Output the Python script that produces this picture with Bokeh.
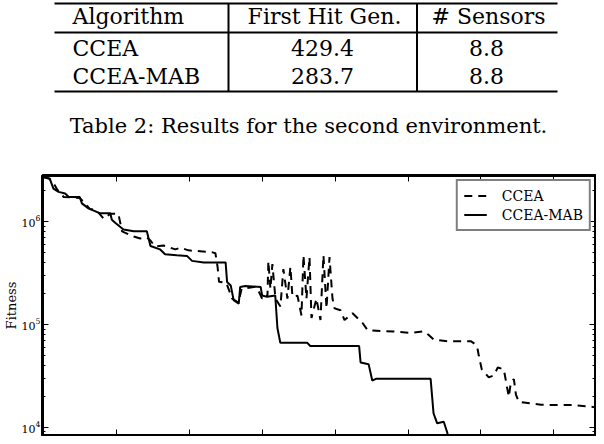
from bokeh.plotting import figure
from bokeh.models import Range1d, FixedTicker, LinearAxis, LogAxis
from bokeh.layouts import column
from bokeh.embed import file_html
from bokeh.resources import INLINE
from bokeh.core.properties import value

# ---------------- table data ----------------
table_headers = ["Algorithm", "First Hit Gen.", "# Sensors"]
algorithms = ["CCEA", "CCEA-MAB"]
first_hit_gen = [429.4, 283.7]
num_sensors = [8.8, 8.8]
caption = "Table 2: Results for the second environment."

# ---------------- chart data ----------------
ccea_gen = [0, 9, 16, 19, 28, 37, 50, 57, 64, 73, 83, 92, 103, 108, 124, 133, 142, 147,
            153, 165, 181, 188, 199, 215, 232, 236, 239, 241, 251, 259, 267.5, 272, 291,
            295, 300, 306, 307.3, 308.6, 311.4, 314.1, 318.3, 325.1, 329.2, 334.7, 338.8,
            341.6, 348.5, 354, 356.7, 360.8, 365, 367.7, 374.5, 380, 384.1, 388.3, 392.4,
            396.5, 399.3, 407.5, 413, 424, 437.7, 444.5, 462.4, 480.3, 503.6, 521.4, 528.4,
            535.3, 554, 586, 592.9, 595.6, 597, 601.1, 610.7, 617.6, 623.1, 631.3, 638.2,
            641, 645.1, 648, 652.1, 682.3, 727.6, 751, 769]
ccea_fitness = [2.70e6, 2.60e6, 2.24e6, 2.05e6, 1.73e6, 1.72e6, 1.69e6, 1.51e6, 1.32e6,
                1.29e6, 1.06e6, 1.19e6, 1.19e6, 8.02e5, 7.15e5, 6.83e5, 6.98e5, 6.53e5,
                5.72e5, 5.85e5, 5.36e5, 5.56e5, 5.24e5, 5.13e5, 5.01e5, 4.91e5, 3.61e5,
                2.59e5, 2.53e5, 1.78e5, 1.63e5, 2.22e5, 2.32e5, 2.12e5, 1.78e5, 1.95e5,
                1.86e5, 4.11e5, 2.22e5, 3.85e5, 1.78e5, 1.49e5, 3.45e5, 1.78e5, 3.61e5,
                1.86e5, 1.90e5, 1.22e5, 4.70e5, 1.78e5, 4.50e5, 1.15e5, 1.78e5, 1.10e5,
                4.70e5, 1.43e5, 4.50e5, 1.78e5, 1.43e5, 1.37e5, 1.10e5, 1.28e5, 1.03e5,
                8.79e4, 8.61e4, 8.51e4, 8.24e4, 8.55e4, 7.89e4, 7.11e4, 6.86e4, 6.86e4,
                6.37e4, 5.66e4, 4.97e4, 3.65e4, 3.05e4, 3.19e4, 3.81e4, 3.65e4, 1.97e4,
                2.74e4, 2.93e4, 2.06e4, 1.76e4, 1.65e4, 1.64e4, 1.58e4, 1.52e4]

mab_gen = [0, 9, 14, 21, 30, 35, 50, 53, 62, 78, 92, 94, 99, 110, 124, 142, 147, 160,
           167, 183, 197, 204, 220, 250, 252, 257, 261, 268, 270, 277, 298, 300, 307,
           318, 321, 325, 362, 366, 433, 435, 446, 451, 456, 531, 535, 540, 549, 554,
           556, 769]
mab_fitness = [2.70e6, 2.60e6, 2.09e6, 1.94e6, 1.87e6, 1.73e6, 1.73e6, 1.50e6, 1.34e6,
               1.20e6, 1.20e6, 1.04e6, 9.66e5, 8.34e5, 8.02e5, 8.02e5, 5.77e5, 5.36e5,
               4.80e5, 4.70e5, 4.63e5, 4.14e5, 4.00e5, 4.00e5, 2.58e5, 2.39e5, 1.72e5,
               1.59e5, 2.31e5, 2.36e5, 2.31e5, 1.91e5, 1.85e5, 1.91e5, 9.2e4, 6.61e4,
               6.61e4, 6.15e4, 6.15e4, 4.26e4, 4.10e4, 2.84e4, 2.95e4, 2.95e4, 1.36e4,
               1.09e4, 1.13e4, 8.77e3, 6.0e3, 6.0e3]

x_ticks = [0, 100, 200, 300, 400, 500, 600, 700]
y_ticks = [1e4, 1e5, 1e6]
y_minor_ticks = [k * 10 ** e for e in (3, 4, 5, 6) for k in range(2, 10)]

SERIF = "DejaVu Serif"
BORDER_L, BORDER_R = 42, 1

# ---------------- table + caption figure ----------------
t = figure(width=596, height=165, x_range=Range1d(BORDER_L, 596 - BORDER_R),
           y_range=Range1d(165, 0),
           output_backend="svg", toolbar_location=None,
           min_border_left=BORDER_L, min_border_right=BORDER_R,
           min_border_top=0, min_border_bottom=0,
           x_axis_location=None, y_axis_location=None)
t.grid.visible = False
t.outline_line_color = None

rule_y = [3, 32, 91]
t.segment(x0=54, x1=557, y0=rule_y, y1=rule_y, line_width=2, line_color="black")
sep_x = [228, 416.5]
t.segment(x0=sep_x, x1=sep_x, y0=3, y1=91, line_width=2, line_color="black")

header_base, row_base = 15.5, [47.5, 75.5]
tfont = dict(text_font=value(SERIF), text_font_size="22px", text_color="black",
             text_baseline="alphabetic")
t.text(x=[72], y=[header_base], text=[table_headers[0]], text_align="left", **tfont)
t.text(x=[324, 488], y=[header_base] * 2, text=table_headers[1:], text_align="center", **tfont)
t.text(x=[72] * 2, y=row_base, text=algorithms, text_align="left", **tfont)
t.text(x=[322] * 2, y=row_base, text=[f"{v:.1f}" for v in first_hit_gen],
       text_align="center", **tfont)
t.text(x=[486] * 2, y=row_base, text=[f"{v:.1f}" for v in num_sensors],
       text_align="center", **tfont)
t.text(x=[308], y=[125], text=[caption], text_align="center",
       text_font=value(SERIF), text_font_size="21px", text_color="black",
       text_baseline="alphabetic")

# ---------------- chart figure ----------------
p = figure(width=596, height=271, x_range=Range1d(-1, 757), y_range=Range1d(8.3e3, 2.8e6),
           y_axis_type="log", output_backend="svg", toolbar_location=None,
           x_axis_location=None, y_axis_location=None,
           min_border_left=BORDER_L, min_border_right=BORDER_R,
           min_border_top=10, min_border_bottom=1)
p.xgrid.grid_line_color = None
p.ygrid.grid_line_color = None
p.outline_line_color = "black"
p.outline_line_width = 3
p.background_fill_color = "white"

bottom_ax, top_ax = LinearAxis(), LinearAxis()
left_ax, right_ax = LogAxis(axis_label="Fitness"), LogAxis()
p.add_layout(bottom_ax, "below")
p.add_layout(top_ax, "above")
p.add_layout(left_ax, "left")
p.add_layout(right_ax, "right")

for ax in [bottom_ax, top_ax]:
    ax.ticker = FixedTicker(ticks=x_ticks)
    ax.major_tick_in = 6
    ax.major_tick_out = 0
    ax.minor_tick_in = 0
    ax.minor_tick_out = 0

for ax in [left_ax, right_ax]:
    ax.ticker = FixedTicker(ticks=y_ticks, minor_ticks=y_minor_ticks)
    ax.major_tick_in = 6
    ax.major_tick_out = 0
    ax.minor_tick_in = 3
    ax.minor_tick_out = 0
    ax.minor_tick_line_color = "black"

for ax in [bottom_ax, top_ax, left_ax, right_ax]:
    ax.axis_line_color = None
    ax.major_tick_line_color = "black"

for ax in [bottom_ax, top_ax, right_ax]:
    ax.major_label_text_font_size = "1px"
    ax.major_label_text_color = None
    ax.major_label_standoff = 0

left_ax.major_label_text_font = SERIF
left_ax.major_label_text_font_size = "11px"
left_ax.major_label_text_color = "black"
left_ax.major_label_standoff = 2
left_ax.axis_label_text_font = SERIF
left_ax.axis_label_text_font_size = "13px"
left_ax.axis_label_text_font_style = "normal"
left_ax.axis_label_text_color = "black"
left_ax.axis_label_standoff = 0

p.line(ccea_gen, ccea_fitness, line_color="black", line_width=2, line_dash="8 6",
       legend_label="CCEA")
p.line(mab_gen, mab_fitness, line_color="black", line_width=2, legend_label="CCEA-MAB")

lg = p.legend[0]
lg.location = "top_right"
lg.margin = 4
lg.padding = 6
lg.spacing = 2
lg.label_height = 17
lg.glyph_height = 17
lg.glyph_width = 23
lg.label_standoff = 15
lg.label_text_font = SERIF
lg.label_text_font_size = "14px"
lg.label_text_color = "black"
lg.border_line_color = "black"
lg.border_line_width = 2
lg.background_fill_alpha = 1

layout = column(t, p, spacing=0)
open("out.html", "w").write(file_html(layout, INLINE))
